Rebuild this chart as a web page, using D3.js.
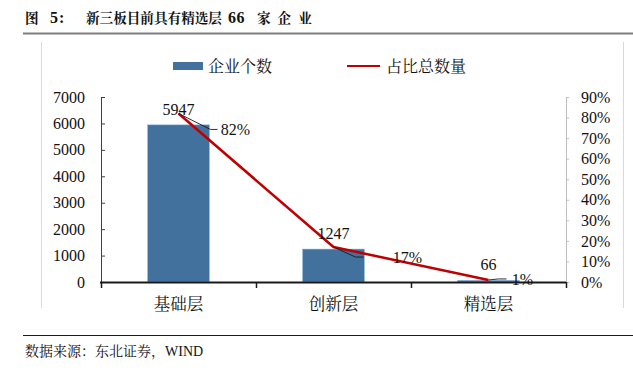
<!DOCTYPE html>
<html><head><meta charset="utf-8">
<script src="https://cdn.jsdelivr.net/npm/d3@7"></script>
<style>
body{margin:0;background:#fff;}
svg{display:block;}
text{font-family:"Liberation Serif","Times New Roman","Noto Serif CJK SC","Noto Sans CJK SC",serif;fill:#111;}
</style></head>
<body>
<script>
const categories = ["基础层", "创新层", "精选层"];
const counts = [5947, 1247, 66];
const shares = [0.82, 0.17, 0.01];
const shareLabels = ["82%", "17%", "1%"];
const leftTicks = [0, 1000, 2000, 3000, 4000, 5000, 6000, 7000];
const rightTicks = [0, 0.1, 0.2, 0.3, 0.4, 0.5, 0.6, 0.7, 0.8, 0.9];
const legendNames = ["企业个数", "占比总数量"];
const titleParts = ["图", "5:", "新三板目前具有精选层", "66", "家企业"];
const sourceText = "数据来源：东北证券，WIND";

const W = 633, H = 371;
const svg = d3.select("body").append("svg").attr("width", W).attr("height", H);
const cjk = '"Liberation Serif","Noto Serif CJK SC","Noto Sans CJK SC",serif';

// title
const titleX = [25, 50, 86, 228, 257];
const titleSize = [13.6, 16, 13.6, 16, 13.6];
const titleSpacing = [0, 1, 0, 0.5, 7];
titleParts.forEach((t, i) => {
  svg.append("text").attr("x", titleX[i]).attr("y", 23).attr("font-size", titleSize[i]).attr("font-weight", "bold")
    .attr("letter-spacing", titleSpacing[i])
    .style("font-family", cjk).text(t);
});
svg.append("line").attr("x1", 23).attr("x2", 633).attr("y1", 33.5).attr("y2", 33.5)
  .attr("stroke", "#7f7f7f").attr("stroke-width", 2);

// frame lines
svg.append("line").attr("x1", 41.5).attr("x2", 41.5).attr("y1", 42).attr("y2", 308).attr("stroke", "#d9d9d9");
svg.append("line").attr("x1", 623.5).attr("x2", 623.5).attr("y1", 42).attr("y2", 308).attr("stroke", "#d9d9d9");

const x0 = 101, x1 = 566, yTop = 97, yBot = 282;
const x = d3.scaleBand().domain(categories).range([x0, x1]).paddingInner(0.6).paddingOuter(0.3);
const xb = d3.scaleBand().domain(categories).range([x0, x1]);
const y = d3.scaleLinear().domain([0, 7000]).range([yBot, yTop]);
const y2 = d3.scaleLinear().domain([0, 0.9]).range([yBot, yTop]);

// bars
svg.selectAll("rect.bar").data(counts).enter().append("rect").attr("class", "bar")
  .attr("x", (d, i) => x(categories[i])).attr("width", x.bandwidth())
  .attr("y", d => y(d)).attr("height", d => yBot - y(d)).attr("fill", "#41719c")
  .attr("stroke", "#9dc3e6").attr("stroke-width", 0.6);

// left axis
const ga = svg.append("g").attr("transform", `translate(${x0},0)`)
  .call(d3.axisLeft(y).tickValues(leftTicks).tickSize(-4).tickPadding(16).tickFormat(d3.format("d")));
ga.select(".domain").attr("stroke", "#404040");
ga.selectAll(".tick line").attr("stroke", "#404040");
ga.selectAll("text").attr("font-size", 16).style("font-family", '"Liberation Serif",serif').attr("fill", "#111");

// right axis
const gr = svg.append("g").attr("transform", `translate(${x1},0)`)
  .call(d3.axisRight(y2).tickValues(rightTicks).tickSize(3).tickPadding(12).tickFormat(d3.format(".0%")));
gr.select(".domain").attr("stroke", "#bfbfbf");
gr.selectAll(".tick line").attr("stroke", "#bfbfbf");
gr.selectAll("text").attr("font-size", 16).style("font-family", '"Liberation Serif",serif').attr("fill", "#111");

// bottom axis
const gb = svg.append("g").attr("transform", `translate(0,${yBot})`)
  .call(d3.axisBottom(xb).tickSize(0).tickPadding(16));
gb.select(".domain").remove();
gb.selectAll("text").attr("font-size", 16.5).style("font-family", cjk).attr("fill", "#111");
svg.append("line").attr("x1", x0 - 1).attr("x2", x1).attr("y1", yBot + 0.5).attr("y2", yBot + 0.5)
  .attr("stroke", "#1a1a1a").attr("stroke-width", 2.2);
const tickXs = categories.map(c => xb(c)).concat([x1]);
svg.selectAll("line.xt").data(tickXs).enter().append("line")
  .attr("x1", d => d + 0.5).attr("x2", d => d + 0.5).attr("y1", yBot).attr("y2", yBot + 6)
  .attr("stroke", "#1a1a1a").attr("stroke-width", 1.5);

// line
const cx = c => xb(c) + xb.bandwidth() / 2;
const line = d3.line().x((d, i) => cx(categories[i])).y(d => y2(d));
svg.append("path").datum(shares).attr("d", line).attr("fill", "none")
  .attr("stroke", "#c00000").attr("stroke-width", 2.5);

// count labels
const countOff = [[0, -10], [0, -10], [0, -10]];
svg.selectAll("text.cnt").data(counts).enter().append("text")
  .attr("x", (d, i) => cx(categories[i]) + countOff[i][0])
  .attr("y", (d, i) => y(d) + countOff[i][1])
  .attr("text-anchor", "middle").attr("font-size", 16).text(d => d);

// share labels with leaders
const labPos = [[57, 22], [74, 16], [34, 5]];
const leaders = [
  [[0, 0], [32, 16], [39, 16]],
  [[0, 0], [22, 10], [30, 10]],
  [[0, 0], [10, -1], [18, -1]]
];
shares.forEach((s, i) => {
  const px = cx(categories[i]), py = y2(s);
  svg.append("path").attr("d", d3.line()(leaders[i].map(p => [px + p[0], py + p[1]])))
    .attr("fill", "none").attr("stroke", "#1a1a1a").attr("stroke-width", 0.9);
  svg.append("text").attr("x", px + labPos[i][0]).attr("y", py + labPos[i][1])
    .attr("text-anchor", "middle").attr("font-size", 16).text(shareLabels[i]);
});

// legend
svg.append("rect").attr("x", 173).attr("y", 62).attr("width", 30).attr("height", 8).attr("fill", "#41719c");
svg.append("text").attr("x", 208).attr("y", 72).attr("font-size", 16).style("font-family", cjk).text(legendNames[0]);
svg.append("line").attr("x1", 347).attr("x2", 380).attr("y1", 66).attr("y2", 66).attr("stroke", "#c00000").attr("stroke-width", 2);
svg.append("text").attr("x", 386).attr("y", 72).attr("font-size", 16).style("font-family", cjk).text(legendNames[1]);

// bottom rule & source
svg.append("line").attr("x1", 23).attr("x2", 633).attr("y1", 335.5).attr("y2", 335.5).attr("stroke", "#1a1a1a").attr("stroke-width", 1.2);
svg.append("text").attr("x", 25).attr("y", 356).attr("font-size", 14).style("font-family", cjk).text(sourceText);
</script>
</body></html>
